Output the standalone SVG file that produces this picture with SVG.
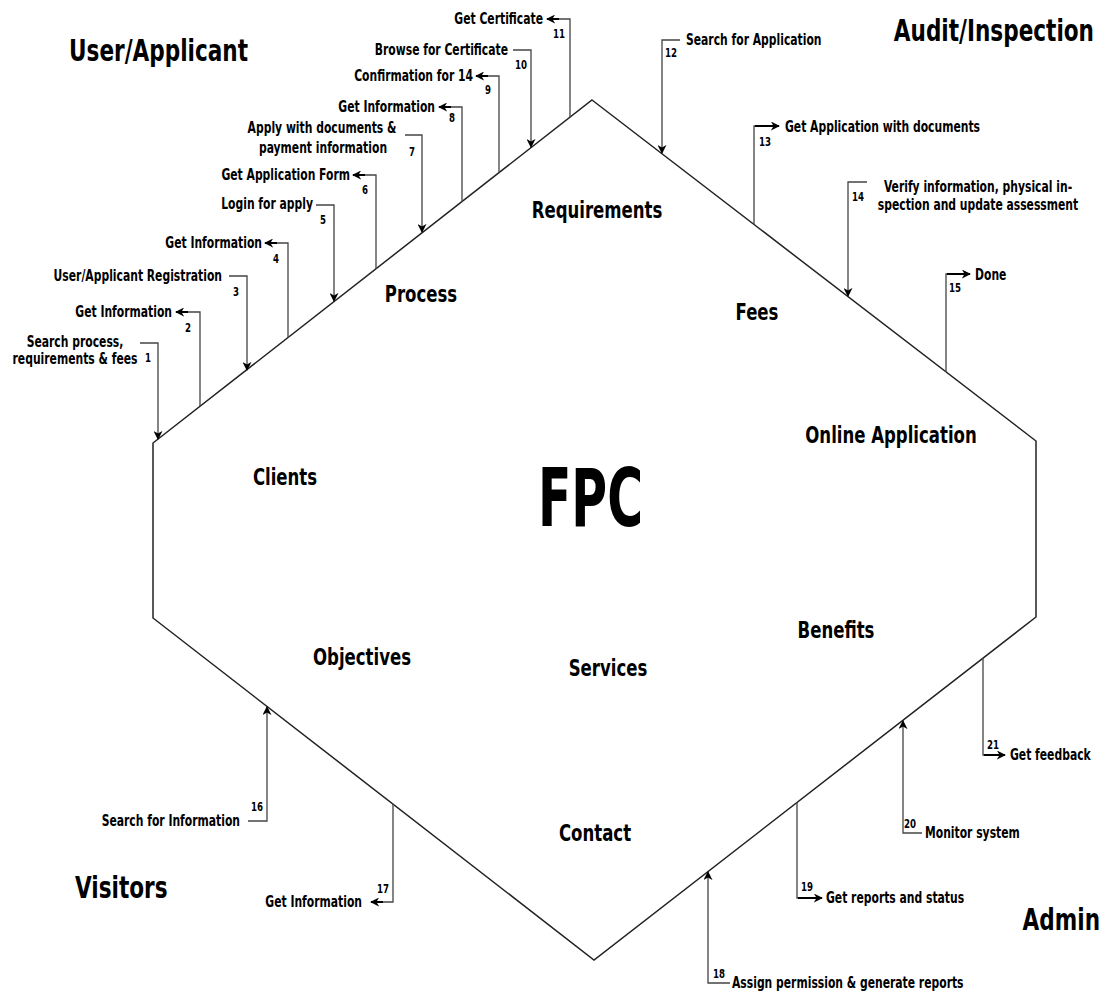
<svg xmlns="http://www.w3.org/2000/svg" width="1107" height="997" viewBox="0 0 1107 997">
<style>
text{font-family:"DejaVu Sans Condensed","DejaVu Sans",sans-serif;font-weight:bold;fill:#000}
.t{font-size:30px}
.in{font-size:23px;text-anchor:middle}
.s{font-size:15px}
.n{font-size:12px;text-anchor:middle}
.r{text-anchor:end}
.m{text-anchor:middle}
.c{fill:none;stroke:#444;stroke-width:1.3}
.a{fill:none;stroke:#000;stroke-width:2}
.hex{fill:#fff;stroke:#222;stroke-width:1.5}
</style>
<defs>
<marker id="ah" viewBox="0 0 10 10" refX="9" refY="5" markerWidth="9" markerHeight="9" markerUnits="userSpaceOnUse" orient="auto">
<path d="M0,0 L10,5 L0,10 L3,5 Z" fill="#000"/>
</marker>
</defs>
<rect width="1107" height="997" fill="#fff"/>
<g id="fpc">
<polygon class="hex" points="592,100 1036,441 1036,617 594,960 153,618 153,443"/>
<text x="538" y="526" font-size="80" textLength="105" lengthAdjust="spacingAndGlyphs">FPC</text>
<text class="in" transform="translate(597 218) scale(0.8 1)">Requirements</text>
<text class="in" transform="translate(421 302) scale(0.8 1)">Process</text>
<text class="in" transform="translate(757 320) scale(0.8 1)">Fees</text>
<text class="in" transform="translate(891 443) scale(0.8 1)">Online Application</text>
<text class="in" transform="translate(285 485) scale(0.8 1)">Clients</text>
<text class="in" transform="translate(362 665) scale(0.8 1)">Objectives</text>
<text class="in" transform="translate(608 676) scale(0.8 1)">Services</text>
<text class="in" transform="translate(836 638) scale(0.8 1)">Benefits</text>
<text class="in" transform="translate(595 841) scale(0.8 1)">Contact</text>
</g>
<g id="user">
<text class="t" transform="translate(69 61) scale(0.8 1)">User/Applicant</text>
</g>
<g id="audit">
<text class="t r" transform="translate(1094 41) scale(0.8 1)">Audit/Inspection</text>
</g>
<g id="visitors">
<text class="t" transform="translate(75 898) scale(0.8 1)">Visitors</text>
</g>
<g id="admin">
<text class="t r" transform="translate(1100 930) scale(0.8 1)">Admin</text>
</g>
<g id="connectors">
<!-- 1 -->
<polyline class="c" points="140,343 158,343 158,439" marker-end="url(#ah)"/>
<text class="s m" transform="translate(75 347) scale(0.8 1)">Search process,</text>
<text class="s m" transform="translate(75 364) scale(0.8 1)">requirements &amp; fees</text>
<text class="n" transform="translate(148 362) scale(0.8 1)">1</text>
<!-- 2 -->
<polyline class="c" points="200,406 200,312 187,312"/>
<line class="a" x1="188" y1="312" x2="176" y2="312" marker-end="url(#ah)"/>
<text class="s r" transform="translate(172 317) scale(0.8 1)">Get Information</text>
<text class="n" transform="translate(188 332) scale(0.8 1)">2</text>
<!-- 3 -->
<polyline class="c" points="229,276 247,276 247,370" marker-end="url(#ah)"/>
<text class="s r" transform="translate(222 281) scale(0.8 1)">User/Applicant Registration</text>
<text class="n" transform="translate(236 296) scale(0.8 1)">3</text>
<!-- 4 -->
<polyline class="c" points="288,338 288,243 276,243"/>
<line class="a" x1="277" y1="243" x2="265" y2="243" marker-end="url(#ah)"/>
<text class="s r" transform="translate(262 248) scale(0.8 1)">Get Information</text>
<text class="n" transform="translate(276 263) scale(0.8 1)">4</text>
<!-- 5 -->
<polyline class="c" points="316,205 334,205 334,301" marker-end="url(#ah)"/>
<text class="s r" transform="translate(313 209) scale(0.8 1)">Login for apply</text>
<text class="n" transform="translate(323 224) scale(0.8 1)">5</text>
<!-- 6 -->
<polyline class="c" points="376,269 376,175 364,175"/>
<line class="a" x1="365" y1="175" x2="353" y2="175" marker-end="url(#ah)"/>
<text class="s r" transform="translate(350 180) scale(0.8 1)">Get Application Form</text>
<text class="n" transform="translate(365 194) scale(0.8 1)">6</text>
<!-- 7 -->
<polyline class="c" points="405,135 422,135 422,232" marker-end="url(#ah)"/>
<text class="s m" transform="translate(322 133) scale(0.8 1)">Apply with documents &amp;</text>
<text class="s m" transform="translate(323 153) scale(0.8 1)">payment information</text>
<text class="n" transform="translate(412 156) scale(0.8 1)">7</text>
<!-- 8 -->
<polyline class="c" points="462,202 462,107 450,107"/>
<line class="a" x1="451" y1="107" x2="439" y2="107" marker-end="url(#ah)"/>
<text class="s r" transform="translate(435 112) scale(0.8 1)">Get Information</text>
<text class="n" transform="translate(452 122) scale(0.8 1)">8</text>
<!-- 9 -->
<polyline class="c" points="499,173 499,76 487,76"/>
<line class="a" x1="488" y1="76" x2="476" y2="76" marker-end="url(#ah)"/>
<text class="s r" transform="translate(473 81) scale(0.8 1)">Confirmation for 14</text>
<text class="n" transform="translate(488 94) scale(0.8 1)">9</text>
<!-- 10 -->
<polyline class="c" points="513,50 531,50 531,147" marker-end="url(#ah)"/>
<text class="s r" transform="translate(508 55) scale(0.8 1)">Browse for Certificate</text>
<text class="n" transform="translate(521 69) scale(0.8 1)">10</text>
<!-- 11 -->
<polyline class="c" points="570,117 570,19 558,19"/>
<line class="a" x1="559" y1="19" x2="547" y2="19" marker-end="url(#ah)"/>
<text class="s r" transform="translate(543 24) scale(0.8 1)">Get Certificate</text>
<text class="n" transform="translate(559 38) scale(0.8 1)">11</text>
<!-- 12 -->
<polyline class="c" points="680,40 662,40 662,153" marker-end="url(#ah)"/>
<text class="s" transform="translate(686 45) scale(0.8 1)">Search for Application</text>
<text class="n" transform="translate(671 57) scale(0.8 1)">12</text>
<!-- 13 -->
<polyline class="c" points="754,224 754,126 767,126"/>
<line class="a" x1="755" y1="126" x2="779" y2="126" marker-end="url(#ah)"/>
<text class="s" transform="translate(785 132) scale(0.8 1)">Get Application with documents</text>
<text class="n" transform="translate(765 146) scale(0.8 1)">13</text>
<!-- 14 -->
<polyline class="c" points="867,182 848,182 848,296" marker-end="url(#ah)"/>
<text class="s m" transform="translate(978 192) scale(0.8 1)">Verify information, physical in-</text>
<text class="s m" transform="translate(978 210) scale(0.8 1)">spection and update assessment</text>
<text class="n" transform="translate(858 201) scale(0.8 1)">14</text>
<!-- 15 -->
<polyline class="c" points="946,372 946,274 958,274"/>
<line class="a" x1="947" y1="274" x2="970" y2="274" marker-end="url(#ah)"/>
<text class="s" transform="translate(975 280) scale(0.8 1)">Done</text>
<text class="n" transform="translate(955 292) scale(0.8 1)">15</text>
<!-- 16 -->
<polyline class="c" points="248,821 267,821 267,707" marker-end="url(#ah)"/>
<text class="s r" transform="translate(240 826) scale(0.8 1)">Search for Information</text>
<text class="n" transform="translate(257 811) scale(0.8 1)">16</text>
<!-- 17 -->
<polyline class="c" points="393,804 393,902 382,902"/>
<line class="a" x1="383" y1="902" x2="371" y2="902" marker-end="url(#ah)"/>
<text class="s r" transform="translate(362 907) scale(0.8 1)">Get Information</text>
<text class="n" transform="translate(383 893) scale(0.8 1)">17</text>
<!-- 18 -->
<polyline class="c" points="730,983 708,983 708,872" marker-end="url(#ah)"/>
<text class="s" transform="translate(732 988) scale(0.8 1)">Assign permission &amp; generate reports</text>
<text class="n" transform="translate(719 978) scale(0.8 1)">18</text>
<!-- 19 -->
<polyline class="c" points="797,802 797,898 809,898"/>
<line class="a" x1="798" y1="898" x2="822" y2="898" marker-end="url(#ah)"/>
<text class="s" transform="translate(826 903) scale(0.8 1)">Get reports and status</text>
<text class="n" transform="translate(807 891) scale(0.8 1)">19</text>
<!-- 20 -->
<polyline class="c" points="922,833 903,833 903,721" marker-end="url(#ah)"/>
<text class="s" transform="translate(925 838) scale(0.8 1)">Monitor system</text>
<text class="n" transform="translate(910 828) scale(0.8 1)">20</text>
<!-- 21 -->
<polyline class="c" points="983,658 983,755 995,755"/>
<line class="a" x1="984" y1="755" x2="1005" y2="755" marker-end="url(#ah)"/>
<text class="s" transform="translate(1010 760) scale(0.8 1)">Get feedback</text>
<text class="n" transform="translate(993 749) scale(0.8 1)">21</text>
</g>
</svg>
